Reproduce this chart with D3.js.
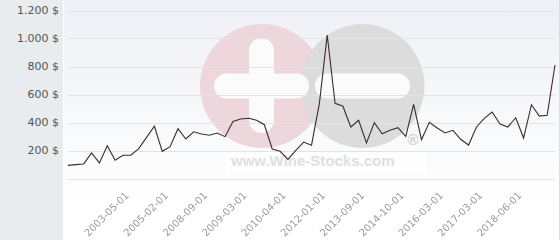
<!DOCTYPE html>
<html>
<head>
<meta charset="utf-8">
<script src="https://d3js.org/d3.v7.min.js"></script>
<style>
  body { margin: 0; background: #fff; }
  svg { display: block; }
  .xlab { opacity: 0.99; will-change: transform; }
</style>
</head>
<body>
<div id="chart"></div>
<script>

// price per point (in $)
var prices = [94, 99, 104, 182, 111, 234, 130, 166, 166, 213,
              294, 373, 194, 227, 356, 282, 334, 318, 309, 325,
              299, 408, 425, 430, 416, 384, 211, 194, 137, 201,
              260, 238, 535, 1025, 537, 516, 368, 416, 254, 399,
              320, 344, 363, 301, 530, 277, 402, 361, 325, 344,
              280, 239, 368, 430, 475, 389, 368, 434, 289, 527,
              446, 451, 811];

// dates shown under the axis, and which point they belong to
var tickLabels = ["2003-05-01", "2005-02-01", "2008-09-01", "2009-03-01", "2010-04-01",
                  "2012-01-01", "2013-09-01", "2014-10-01", "2016-03-01", "2017-03-01", "2018-06-01"];
var tickIndex = [7, 12, 17, 22, 27, 32, 37, 42, 47, 52, 57];

var yTicks = [0, 200, 400, 600, 800, 1000, 1200];

var W = 560, H = 240;

var svg = d3.select("#chart")
    .append("svg")
    .attr("width", W)
    .attr("height", H);

var defs = svg.append("defs");
var grad = defs.append("linearGradient")
    .attr("id", "bg")
    .attr("x1", 0).attr("y1", 0).attr("x2", 0).attr("y2", 1);
grad.append("stop").attr("offset", "0%").attr("stop-color", "#eef0f5");
grad.append("stop").attr("offset", "85%").attr("stop-color", "#ffffff");

// left panel
svg.append("rect")
    .attr("x", 0).attr("y", 0)
    .attr("width", 63).attr("height", H)
    .attr("fill", "#e8ecef");

// plot background
svg.append("rect")
    .attr("x", 64).attr("y", 0)
    .attr("width", 495).attr("height", H)
    .attr("fill", "url(#bg)");
svg.append("line")
    .attr("x1", 559.5).attr("x2", 559.5)
    .attr("y1", 0).attr("y2", H)
    .attr("stroke", "#dddddd");

var x = d3.scaleLinear()
    .domain([0, prices.length - 1])
    .range([68, 555]);

var y = d3.scaleLinear()
    .domain([0, 1200])
    .range([178.5, 10.5]);

// watermark
var wm = svg.append("g");
wm.append("circle").attr("cx", 262).attr("cy", 86).attr("r", 62).attr("fill", "#edd6dc");
wm.append("circle").attr("cx", 362.5).attr("cy", 86).attr("r", 62).attr("fill", "#dcdcdc");
wm.append("rect").attr("x", 249).attr("y", 38).attr("width", 25).attr("height", 95)
    .attr("rx", 12.5).attr("fill", "#fbfbfc");
wm.append("rect").attr("x", 214).attr("y", 73.5).attr("width", 95).attr("height", 25)
    .attr("rx", 12.5).attr("fill", "#fbfbfc");
wm.append("rect").attr("x", 315).attr("y", 73.5).attr("width", 95).attr("height", 25)
    .attr("rx", 12.5).attr("fill", "#fbfbfc");
wm.append("rect").attr("x", 226).attr("y", 151).attr("width", 200).attr("height", 23)
    .attr("fill", "#ffffff").attr("opacity", 0.6);
wm.append("text")
    .attr("x", 231).attr("y", 166)
    .attr("font-family", "Liberation Sans, Arial, sans-serif")
    .attr("font-weight", "bold")
    .attr("font-size", 15)
    .attr("fill", "#e0e0e0")
    .text("www.Wine-Stocks.com");
wm.append("text")
    .attr("x", 413).attr("y", 145)
    .attr("text-anchor", "middle")
    .attr("font-family", "Liberation Sans, Arial, sans-serif")
    .attr("font-weight", "bold")
    .attr("font-size", 15)
    .attr("fill", "#cfcfcf")
    .text("®");

// grid lines
svg.append("g")
    .selectAll("line")
    .data(yTicks)
    .enter()
    .append("line")
    .attr("x1", 68).attr("x2", 555)
    .attr("y1", function(d) { return Math.round(y(d)) + 0.5; })
    .attr("y2", function(d) { return Math.round(y(d)) + 0.5; })
    .attr("stroke", "#e3e3e3");

// y labels
svg.append("g")
    .selectAll("text")
    .data(yTicks.filter(function(d) { return d > 0; }))
    .enter()
    .append("text")
    .attr("x", 59)
    .attr("y", function(d) { return y(d); })
    .attr("dy", "0.32em")
    .attr("text-anchor", "end")
    .attr("font-family", "DejaVu Sans, sans-serif")
    .attr("font-size", 11)
    .attr("fill", "#555")
    .text(function(d) { return d3.format(",")(d).replace(",", ".") + " $"; });

// x labels
var xAxis = svg.append("g")
    .attr("class", "xlab")
    .attr("transform", "translate(0,188)")
    .call(d3.axisBottom(x)
        .tickValues(tickIndex)
        .tickSize(0)
        .tickFormat(function(d, i) { return tickLabels[i]; }));
xAxis.select(".domain").remove();
xAxis.selectAll("text")
    .attr("font-family", "DejaVu Sans, sans-serif")
    .attr("font-size", 10)
    .attr("fill", "#9a9a9a")
    .attr("text-anchor", "end")
    .attr("dy", null)
    .attr("y", 0)
    .attr("transform", "translate(6,8) rotate(-45)");

// price line
svg.append("path")
    .datum(prices)
    .attr("d", d3.line()
        .x(function(d, i) { return x(i); })
        .y(function(d) { return y(d); }))
    .attr("fill", "none")
    .attr("stroke", "#3b2a33")
    .attr("stroke-width", 1.1);

</script>
</body>
</html>
